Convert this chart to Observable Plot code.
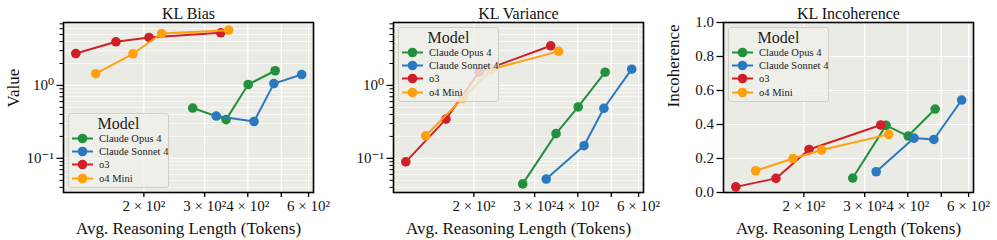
<!DOCTYPE html>
<html>
<head>
<meta charset="utf-8">
<script src="https://cdn.jsdelivr.net/npm/d3@7"></script>
<script src="https://cdn.jsdelivr.net/npm/@observablehq/plot@0.6"></script>
<style>
  html, body { margin: 0; padding: 0; background: #ffffff; }
  #wrap { position: relative; width: 997px; height: 240px; overflow: hidden; font-family: "Liberation Serif", "DejaVu Serif", serif; }
  .panel { position: absolute; top: 0; width: 330px; height: 240px; }
  .panel svg text { font-family: "Liberation Serif", "DejaVu Serif", serif !important; }
  .legend { position: absolute; left: 68px; width: 101px; box-sizing: border-box;
    background: rgba(239,239,234,0.82); border: 1px solid #cfcfca; border-radius: 3px; padding: 1px 0 2px 0; }
  .legend .lt { text-align: center; font-size: 16px; line-height: 17px; margin-bottom: 0px; color: #222; }
  .legend .row { display: flex; align-items: center; height: 13.2px; font-size: 10.5px; color: #222; white-space: nowrap; }
  .legend svg { margin-left: 2px; margin-right: 6px; flex: none; }
</style>
</head>
<body>
<div id="wrap"></div>
<script>
// ---- data ----
const models = ["Claude Opus 4", "Claude Sonnet 4", "o3", "o4 Mini"];
const colors = ["#23903e", "#2a79c0", "#d11f27", "#ffa00c"];

// average reasoning length (tokens), per model
const opusLen   = [277, 346, 401, 480];
const sonnetLen = [324, 417, 476, 573];
const o3Len     = [127, 166, 207, 334];
const o4Len     = [145, 186, 225, 352];

// KL Bias
const opusBias   = [0.49, 0.34, 1.03, 1.59];
const sonnetBias = [0.38, 0.32, 1.06, 1.41];
const o3Bias     = [2.74, 3.97, 4.55, 5.27];
const o4Bias     = [1.45, 2.72, 5.15, 5.72];

// KL Variance
const opusVar   = [0.0446, 0.218, 0.507, 1.52];
const sonnetVar = [0.052, 0.149, 0.486, 1.67];
const o3Var     = [0.0896, 0.345, 1.52, 3.50];
const o4Var     = [0.204, 0.672, 1.67, 2.93];

// KL Incoherence
const opusInc   = [0.085, 0.395, 0.332, 0.491];
const sonnetInc = [0.122, 0.320, 0.312, 0.544];
const o3Inc     = [0.033, 0.083, 0.253, 0.397];
const o4Inc     = [0.128, 0.200, 0.250, 0.342];

const xTicks = [200, 300, 400, 500, 600];
const xTickLabels = ["2 × 10²", "3 × 10²", "4 × 10²", "", "6 × 10²"];
const logMajor = [0.1, 1];
const logMajorLabels = ["10⁻¹", "10⁰"];
const logMinor = [0.04, 0.05, 0.06, 0.07, 0.08, 0.09, 0.2, 0.3, 0.4, 0.5, 0.6, 0.7, 0.8, 0.9, 2, 3, 4, 5, 6, 7];
const linTicks = [0, 0.2, 0.4, 0.6, 0.8, 1.0];

const lens = [opusLen, sonnetLen, o3Len, o4Len];
function table(vals) {
  const rows = [];
  models.forEach((m, i) => lens[i].forEach((x, j) => rows.push({model: m, x, y: vals[i][j]})));
  return rows;
}

const panels = [
  {title: "KL Bias", ylabel: "Value", data: table([opusBias, sonnetBias, o3Bias, o4Bias]), log: true, legendTop: 113},
  {title: "KL Variance", ylabel: "", data: table([opusVar, sonnetVar, o3Var, o4Var]), log: true, legendTop: 27},
  {title: "KL Incoherence", ylabel: "Incoherence", data: table([opusInc, sonnetInc, o3Inc, o4Inc]), log: false, legendTop: 27}
];

const FONT = '"Liberation Serif", "DejaVu Serif", serif';
const wrap = document.getElementById("wrap");

panels.forEach((p, k) => {
  const seriesMarks = [];
  models.forEach(m => {
    const d = p.data.filter(r => r.model === m);
    seriesMarks.push(Plot.line(d, {x: "x", y: "y", stroke: "model", strokeWidth: 2}));
    seriesMarks.push(Plot.dot(d, {x: "x", y: "y", fill: "model", r: 4.8}));
  });

  const yAxisMarks = p.log ? [
    Plot.gridY(logMinor, {stroke: "#ffffff", strokeOpacity: 1, strokeWidth: 0.7}),
    Plot.gridY(logMajor, {stroke: "#ffffff", strokeOpacity: 1, strokeWidth: 1.3}),
  ] : [
    Plot.gridY(linTicks, {stroke: "#ffffff", strokeOpacity: 1, strokeWidth: 1.2}),
  ];
  const axisText = {fontFamily: FONT, fontSize: 15, fill: "#111"};
  const yTickMarks = p.log ? [
    Plot.axisY(logMinor, {tickSize: 3.5, tickFormat: () => "", label: null, stroke: "#000", strokeWidth: 1}),
    Plot.axisY(logMajor, {tickSize: 6.5, tickPadding: 3, tickFormat: d => logMajorLabels[logMajor.indexOf(d)], label: null, stroke: "#000", strokeWidth: 1.3, ...axisText}),
  ] : [
    Plot.axisY(linTicks, {tickSize: 6.5, tickPadding: 3, tickFormat: d => d.toFixed(1), label: null, stroke: "#000", strokeWidth: 1.3, ...axisText}),
  ];

  const chart = Plot.plot({
    width: 330, height: 240,
    marginLeft: 63, marginRight: 17, marginTop: 22, marginBottom: 48,
    style: {fontFamily: FONT, background: "transparent", overflow: "visible"},
    x: {type: "log", domain: [117, 620]},
    y: p.log ? {type: "log", domain: [0.034, 7.3]} : {type: "linear", domain: [0, 1]},
    color: {domain: models, range: colors},
    marks: [
      Plot.frame({fill: "#ebebe5"}),
      Plot.gridX(xTicks, {stroke: "#ffffff", strokeOpacity: 1, strokeWidth: 1.2}),
      ...yAxisMarks,
      ...seriesMarks,
      Plot.axisX(xTicks, {tickSize: 5, tickPadding: 3, tickFormat: d => xTickLabels[xTicks.indexOf(d)], label: null, stroke: "#000", strokeWidth: 1.3, ...axisText}),
      ...yTickMarks,
      Plot.frame({stroke: "#000", strokeWidth: 1.6}),
      Plot.text([p.title], {frameAnchor: "top", lineAnchor: "bottom", dy: -4, fontSize: 16, fill: "#111", fontFamily: FONT}),
      Plot.text(["Avg. Reasoning Length (Tokens)"], {frameAnchor: "bottom", lineAnchor: "middle", dy: 36, fontSize: 17, fill: "#111", fontFamily: FONT}),
      ...(p.ylabel ? [Plot.text([p.ylabel], {frameAnchor: "left", rotate: -90, dx: -50, fontSize: 17, fill: "#111", fontFamily: FONT})] : [])
    ]
  });

  const div = document.createElement("div");
  div.className = "panel";
  div.style.left = (k * 330) + "px";
  div.appendChild(chart);

  // legend
  const lg = document.createElement("div");
  lg.className = "legend";
  lg.style.top = p.legendTop + "px";
  const t = document.createElement("div");
  t.className = "lt";
  t.textContent = "Model";
  lg.appendChild(t);
  models.forEach((m, i) => {
    const row = document.createElement("div");
    row.className = "row";
    row.innerHTML = `<svg width="22" height="11"><line x1="1" y1="5.5" x2="22" y2="5.5" stroke="${colors[i]}" stroke-width="2"/><circle cx="11.5" cy="5.5" r="4.8" fill="${colors[i]}"/></svg>`;
    const s = document.createElement("span");
    s.textContent = m;
    row.appendChild(s);
    lg.appendChild(row);
  });
  div.appendChild(lg);
  wrap.appendChild(div);
});
</script>
</body>
</html>
